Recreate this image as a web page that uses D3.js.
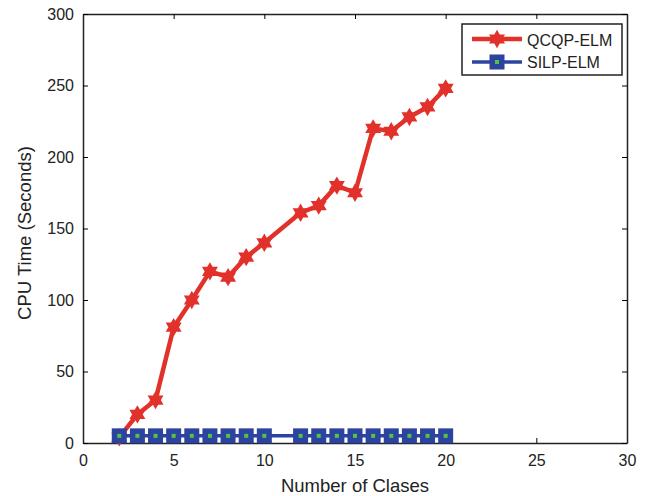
<!DOCTYPE html>
<html><head><meta charset="utf-8">
<script src="https://cdn.jsdelivr.net/npm/d3@7"></script>
<style>body{margin:0;background:#fff}text{font-family:"Liberation Sans",Arial,sans-serif}</style>
</head><body><svg id="c" width="646" height="496"></svg>
<script>
const qcqpX = [2,3,4,5,6,7,8,9,10,12,13,14,15,16,17,18,19,20];
const qcqpY = [4,20,30,81,100,120,116,130,140,161,166,180,175,220,218,228,235,248];
const silpX = [2,3,4,5,6,7,8,9,10,12,13,14,15,16,17,18,19,20];
const silpY = [5,5,5,5,5,5,5,5,5,5,5,5,5,5,5,5,5,5];
const xTicks = [0,5,10,15,20,25,30];
const yTicks = [0,50,100,150,200,250,300];
const seriesNames = ["QCQP-ELM","SILP-ELM"];

const svg = d3.select("#c");
const L=83,R=627,T=14,B=443;
const x = d3.scaleLinear().domain([0,30]).range([L,R]);
const y = d3.scaleLinear().domain([0,300]).range([B,T]);
const red="#e2312a", blue="#2c43a0", green="#4fc64a";

svg.append("g").attr("transform",`translate(0,${B})`).call(d3.axisBottom(x).tickValues(xTicks).tickSizeInner(-5).tickSizeOuter(0).tickPadding(12))
  .call(g=>{g.select(".domain").attr("stroke","#222").attr("stroke-width",1.5);g.selectAll("text").attr("font-size",16).attr("fill","#222");});
svg.append("g").attr("transform",`translate(0,${T})`).call(d3.axisTop(x).tickValues(xTicks).tickSizeInner(-5).tickSizeOuter(0).tickFormat(""))
  .call(g=>g.select(".domain").attr("stroke","#222").attr("stroke-width",1.5));
svg.append("g").attr("transform",`translate(${L},0)`).call(d3.axisLeft(y).tickValues(yTicks).tickSizeInner(-5).tickSizeOuter(0).tickPadding(9))
  .call(g=>{g.select(".domain").attr("stroke","#222").attr("stroke-width",1.5);g.selectAll("text").attr("font-size",16).attr("fill","#222");});
svg.append("g").attr("transform",`translate(${R},0)`).call(d3.axisRight(y).tickValues(yTicks).tickSizeInner(-5).tickSizeOuter(0).tickFormat(""))
  .call(g=>g.select(".domain").attr("stroke","#222").attr("stroke-width",1.5));

svg.append("text").attr("x",(L+R)/2).attr("y",492).attr("text-anchor","middle").attr("font-size",18.5).attr("fill","#222").text("Number of Clases");
svg.append("text").attr("transform",`translate(31,233) rotate(-90)`).attr("text-anchor","middle").attr("font-size",18.5).attr("fill","#222").text("CPU Time (Seconds)");

const star = d3.symbol().type({draw(ctx,size){const r=Math.sqrt(size);const ri=r*0.577;for(let i=0;i<12;i++){const a=-Math.PI/2+i*Math.PI/6;const rr=i%2?ri:r;i?ctx.lineTo(rr*Math.cos(a),rr*Math.sin(a)):ctx.moveTo(rr*Math.cos(a),rr*Math.sin(a));}ctx.closePath();}}).size(85);

const line = d3.line().x(d=>x(d[0])).y(d=>y(d[1]));
const qd = qcqpX.map((v,i)=>[v,qcqpY[i]]);
const sd = silpX.map((v,i)=>[v,silpY[i]]);

svg.append("path").datum(qd).attr("d",line).attr("fill","none").attr("stroke",red).attr("stroke-width",4.5).attr("stroke-linejoin","round");
svg.append("g").selectAll("path").data(qd).join("path").attr("transform",d=>`translate(${x(d[0])},${y(d[1])})`).attr("d",star).attr("fill",red);

svg.append("path").datum(sd).attr("d",line).attr("fill","none").attr("stroke",blue).attr("stroke-width",3.5);
const sq=g=>{g.append("rect").attr("x",-7.5).attr("y",-7.5).attr("width",15).attr("height",15).attr("fill",blue);
  g.append("rect").attr("x",-2).attr("y",-2).attr("width",4).attr("height",4).attr("fill",green);};
svg.append("g").selectAll("g").data(sd).join("g").attr("transform",d=>`translate(${x(d[0])},${y(d[1])})`).each(function(){sq(d3.select(this));});

const lg = svg.append("g");
lg.append("rect").attr("x",462).attr("y",24).attr("width",160).attr("height",51).attr("fill","#fff").attr("stroke","#222").attr("stroke-width",1.5);
lg.append("line").attr("x1",472).attr("x2",522).attr("y1",39).attr("y2",39).attr("stroke",red).attr("stroke-width",4.5);
lg.append("path").attr("transform","translate(497,39)").attr("d",star).attr("fill",red);
lg.append("text").attr("x",527).attr("y",45.5).attr("font-size",16).attr("fill","#222").text(seriesNames[0]);
lg.append("line").attr("x1",472).attr("x2",522).attr("y1",62).attr("y2",62).attr("stroke",blue).attr("stroke-width",3.5);
sq(lg.append("g").attr("transform","translate(497,62)"));
lg.append("text").attr("x",527).attr("y",68).attr("font-size",16).attr("fill","#222").text(seriesNames[1]);
</script></body></html>
